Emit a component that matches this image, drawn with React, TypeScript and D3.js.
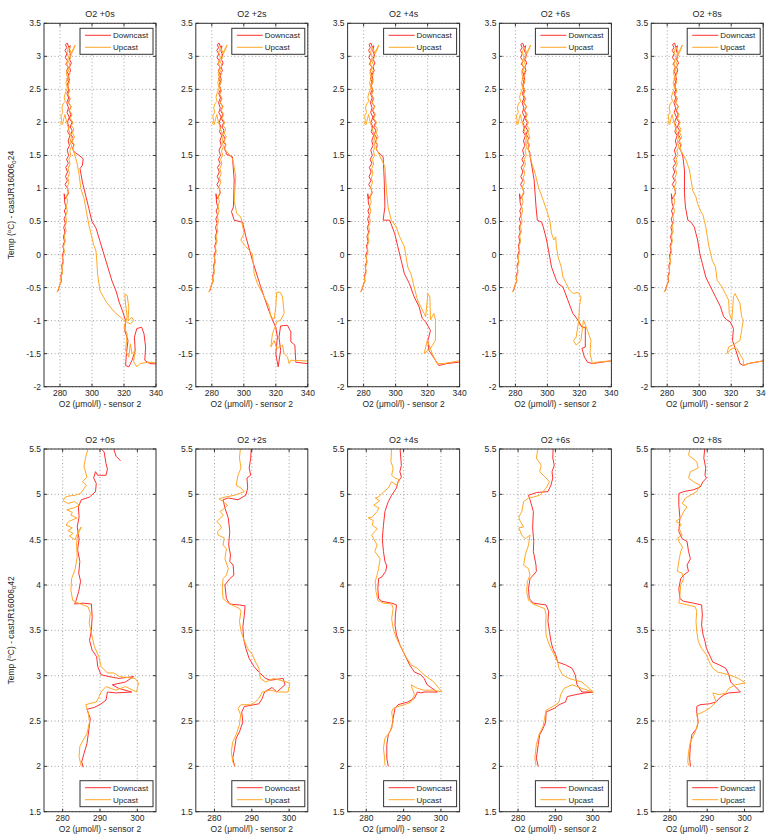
import React from "react";
import * as d3 from "d3";

const W = 766;
const H = 837;

const lagTitles = ["O2 +0s", "O2 +2s", "O2 +4s", "O2 +6s", "O2 +8s"];
const topXTicks = [280, 300, 320, 340];
const topYTicks = [-2, -1.5, -1, -0.5, 0, 0.5, 1, 1.5, 2, 2.5, 3, 3.5];
const bottomXTicks = [280, 290, 300];
const bottomYTicks = [1.5, 2, 2.5, 3, 3.5, 4, 4.5, 5, 5.5];
const seriesNames = ["Downcast", "Upcast"];

// ---- cast JR16006_024 (top row) : shared upper / left branch ----
const topDownUpper = [289,1.55, 287.8,1.6, 288.6,1.66, 287.2,1.7, 288.3,1.76, 286.8,1.82, 287.6,1.88, 286.4,1.93, 287.4,2.0, 285.9,2.06, 286.8,2.12, 285.6,2.18, 286.9,2.24, 285.2,2.3, 286.2,2.36, 284.9,2.42, 285.8,2.48, 284.6,2.55, 285.7,2.6, 284.3,2.66, 285.4,2.72, 284.1,2.78, 285.2,2.84, 283.6,2.88, 284.8,2.93, 283.3,2.98, 284.3,3.04, 283.1,3.09, 284.2,3.13, 283.4,3.18, 284.6,3.2, 285.4,3.14, 286.4,3.16, 285.7,3.08, 286.9,3.02, 285.8,2.96, 287.1,2.9, 285.9,2.84, 286.6,2.78, 285.2,2.72, 285.9,2.64, 284.6,2.58, 285.5,2.5, 284.3,2.44, 285.4,2.37, 284.2,2.3, 285.3,2.22, 284.4,2.15, 285.8,2.08, 284.6,2.0, 285.7,1.93, 284.8,1.86, 286.2,1.8, 285.1,1.72, 285.9,1.65, 284.5,1.58, 285.4,1.5, 284.1,1.44, 285.2,1.38, 283.6,1.32, 284.7,1.25, 283.4,1.18, 284.6,1.12, 283.2,1.06, 284.7,1.0, 285.3,0.93, 284.2,0.88, 283.1,0.84, 282.6,0.92, 283.0,0.78, 283.8,0.72, 282.7,0.66, 283.6,0.6, 282.5,0.54, 283.3,0.47, 282.3,0.41, 283.1,0.34, 282.1,0.27, 282.8,0.2, 281.8,0.13, 282.4,0.06, 281.4,-0.02, 282.0,-0.1, 281.0,-0.17, 281.5,-0.25, 280.5,-0.32, 280.9,-0.4, 279.8,-0.46, 279.2,-0.52, 278.5,-0.56];
const topUpUpper = [288,1.6, 288.9,1.66, 287.6,1.72, 289.1,1.78, 287.8,1.84, 288.7,1.9, 287.1,1.95, 288.2,2.0, 286.4,2.06, 287.5,2.12, 285.9,2.18, 287.0,2.24, 285.4,2.3, 286.4,2.36, 284.9,2.42, 286.1,2.48, 284.6,2.55, 285.9,2.62, 284.8,2.68, 286.3,2.74, 285.0,2.8, 286.4,2.86, 285.3,2.92, 286.8,2.98, 286.0,3.03, 287.6,3.08, 288.4,3.12, 289.5,3.17, 288.3,3.09, 287.2,3.04, 286.2,3.1, 285.3,3.14, 284.4,3.06, 285.3,2.98, 284.2,2.9, 285.1,2.82, 283.9,2.75, 284.8,2.67, 283.7,2.6, 284.6,2.52, 283.4,2.45, 282.6,2.38, 283.3,2.32, 281.9,2.28, 281.2,2.22, 281.8,2.15, 280.6,2.1, 281.1,2.03, 280.4,1.98, 281.6,1.97, 282.4,2.06, 283.1,2.12, 283.8,2.04, 284.6,1.97, 285.4,1.9, 286.2,1.84, 287.1,1.78, 286.3,1.7, 287.3,1.64, 286.1,1.57, 286.8,1.5, 285.5,1.44, 286.3,1.37, 285.0,1.3, 285.9,1.23, 284.8,1.16, 285.6,1.09, 284.4,1.02, 285.2,0.95, 284.0,0.88, 284.8,0.8, 283.8,0.73, 284.6,0.66, 283.5,0.58, 284.2,0.5, 283.1,0.43, 283.8,0.36, 282.7,0.28, 283.3,0.2, 282.2,0.12, 282.8,0.04, 281.7,-0.04, 282.2,-0.12, 281.2,-0.2, 281.6,-0.28, 280.5,-0.35, 280.6,-0.42, 279.5,-0.48, 278.8,-0.53, 278,-0.57];

// ---- top row: lag-dependent lower (diagonal) parts ----
const topDownDiag0 = [343,-1.66, 336,-1.65, 333,-1.6, 333.5,-1.4, 332.5,-1.2, 331,-1.1, 328,-1.12, 326.5,-1.25, 327,-1.45, 325,-1.6, 323,-1.7, 321,-1.68, 321.5,-1.5, 322.5,-1.3, 320.5,-1.15, 321,-1.0, 319,-0.85, 317,-0.72, 315,-0.55, 312.5,-0.4, 310,-0.2, 307.5,0, 305,0.2, 302.5,0.4, 300,0.5, 298,0.7, 296,0.9, 294,1.1, 292.5,1.3, 294,1.35, 294.5,1.45, 292,1.5, 289,1.55];
const topUpDiag0 = [342,-1.64, 335,-1.63, 330,-1.65, 328,-1.7, 326,-1.62, 327,-1.45, 325,-1.5, 324,-1.35, 323,-1.55, 321,-1.45, 322,-1.2, 320,-1.1, 322,-0.95, 321,-0.75, 320.5,-0.6, 322,-0.62, 323,-0.8, 322.5,-1.0, 325,-0.95, 326,-1.0, 324,-1.05, 320,-1.0, 318,-0.95, 314,-0.87, 309,-0.72, 305,-0.55, 303.5,-0.3, 303,-0.1, 302.5,0.05, 301,0.15, 299.5,0.3, 298,0.45, 296.5,0.65, 295,0.85, 293,1.0, 292,1.2, 290.5,1.4, 288,1.6];
const topDownDiag1 = [343,-1.66, 339.8,-1.65, 332.5,-1.63, 331.9,-1.37, 329.4,-1.32, 329.4,-1.17, 327.3,-1.07, 323,-1.08, 322,-1.25, 323,-1.45, 321.5,-1.7, 320,-1.5, 321,-1.25, 320,-1.1, 317.9,-0.99, 314.8,-0.79, 310.6,-0.49, 305.4,-0.09, 301.3,0.27, 299.2,0.49, 294,0.52, 292.3,0.65, 293.5,0.72, 294,1.13, 292.9,1.48, 289,1.52];
const topUpDiag1 = [342,-1.61, 339.8,-1.61, 329.4,-1.6, 328.3,-1.65, 327.3,-1.55, 325.2,-1.5, 324.2,-1.37, 320.6,-1.42, 319,-1.3, 316.9,-1.4, 317.9,-1.2, 320.6,-1.02, 323.1,-0.99, 325.2,-0.89, 324.2,-0.64, 322.7,-0.57, 320.6,-0.57, 320,-0.79, 319,-0.97, 316.9,-0.95, 315.8,-0.79, 311.7,-0.59, 308.5,-0.44, 306.5,-0.29, 305.4,0.01, 301.3,0.12, 298.1,0.22, 300.2,0.32, 298.1,0.57, 295.6,0.62, 294,0.82, 295,1.18, 293,1.45, 288,1.6];
const topDownDiag2 = [343,-1.63, 339.2,-1.63, 332,-1.65, 327,-1.68, 324.9,-1.6, 320.8,-1.45, 320.2,-1.3, 321.8,-1.15, 318.8,-1.02, 316.7,-0.97, 314.7,-0.79, 311.6,-0.64, 308.6,-0.44, 305.5,-0.29, 303.5,-0.09, 301.4,0.12, 299.4,0.32, 296.3,0.52, 292.2,0.52, 293.3,0.72, 292.9,1.13, 292.2,1.48, 289,1.55];
const topUpDiag2 = [342,-1.61, 339.2,-1.61, 330,-1.65, 325.9,-1.65, 322.9,-1.5, 319.8,-1.3, 317.8,-1.5, 321.8,-1.42, 324.9,-1.3, 324.9,-0.99, 323.9,-0.89, 321.8,-0.99, 321.4,-0.64, 320.2,-0.59, 318.8,-0.94, 317.8,-0.89, 315.7,-0.79, 313.7,-0.69, 311.6,-0.49, 309.6,-0.29, 307.6,-0.19, 305.5,0.12, 302.5,0.27, 300.4,0.42, 297.3,0.52, 295.3,0.72, 294.3,0.97, 293.3,1.33, 288,1.6];
const topDownDiag3 = [343,-1.61, 339.5,-1.61, 328.2,-1.65, 325.1,-1.63, 323.1,-1.55, 321.6,-1.42, 323.7,-1.4, 323.7,-1.1, 321.6,-1.1, 319,-0.99, 315.9,-0.89, 312.8,-0.69, 309.7,-0.49, 306.7,-0.44, 305.6,-0.39, 302.6,-0.19, 301.1,0.01, 299.5,0.22, 297.4,0.42, 296.4,0.49, 293.7,0.52, 292.9,0.72, 291.7,1.13, 290.3,1.33, 289.2,1.48, 289,1.55];
const topUpDiag3 = [342,-1.61, 339.5,-1.61, 330.3,-1.63, 328.2,-1.65, 326.6,-1.5, 327.2,-1.3, 325.1,-1.15, 322.5,-0.99, 321,-1.3, 318,-1.37, 316.3,-1.3, 318,-1.25, 319.6,-0.99, 320,-0.79, 321,-0.64, 319,-0.57, 316.3,-0.59, 313.8,-0.54, 311.8,-0.44, 309.7,-0.34, 308.7,-0.19, 306.7,-0.04, 305.6,0.12, 305.2,0.27, 304,0.22, 302.6,0.32, 301.5,0.52, 299.5,0.67, 297.4,0.82, 294.4,1.02, 292.3,1.23, 290.3,1.38, 288,1.6];
const topDownDiag4 = [343,-1.61, 339.8,-1.61, 330.6,-1.65, 327.6,-1.68, 325.5,-1.65, 322.9,-1.45, 320.8,-1.3, 321.4,-1.12, 319.4,-1.02, 317.3,-0.99, 315.3,-0.94, 313.3,-0.79, 310.2,-0.64, 307.1,-0.49, 304.1,-0.34, 302,-0.14, 300.4,0.01, 299,0.22, 296.9,0.42, 294.9,0.49, 292.9,0.52, 291.4,0.72, 290.8,0.92, 290.8,1.28, 289.8,1.48, 289,1.55];
const topUpDiag4 = [342,-1.61, 339.8,-1.61, 330.6,-1.65, 327.6,-1.68, 327.6,-1.6, 323.5,-1.42, 320.4,-1.42, 317.3,-1.5, 318.4,-1.4, 322.4,-1.35, 325.5,-1.3, 326.5,-1.15, 327.6,-0.99, 326.5,-0.94, 325.5,-0.74, 322.4,-0.59, 321.4,-0.64, 320.4,-0.99, 318.8,-0.89, 318.4,-0.69, 316.3,-0.59, 314.3,-0.49, 311.2,-0.39, 310.2,-0.19, 308.2,-0.09, 306.1,0.12, 305.1,0.27, 304.1,0.42, 303.1,0.52, 302.4,0.6, 301,0.65, 299,0.77, 298,0.87, 295.9,0.97, 294.9,1.13, 293.9,1.28, 291.8,1.43, 288,1.6];

// ---- cast JR16006_042 (bottom row) ----
const botDown0 = [295.5,5.37, 294.3,5.42, 293.7,5.5, 292,5.62, 290.3,5.5, 291.1,5.47, 291.6,5.34, 292,5.28, 291.6,5.21, 289.4,5.21, 288.8,5.25, 288.3,5.18, 289,5.12, 288.8,5.03, 287.2,4.97, 285,4.94, 284.2,4.86, 284.4,4.75, 283.9,4.64, 284.4,4.51, 284,4.39, 284.6,4.26, 284.3,4.13, 284.8,4.04, 284.3,3.93, 283.6,3.83, 283.2,3.79, 285.5,3.8, 287.7,3.79, 287.9,3.65, 287.7,3.5, 287.2,3.39, 287.9,3.28, 289.1,3.21, 289.4,3.1, 290.3,3.01, 292.4,2.99, 295,2.97, 299,2.99, 296.8,2.93, 293.3,2.9, 295,2.86, 298.5,2.82, 294.2,2.81, 292,2.82, 291.6,2.73, 290.3,2.69, 288.5,2.65, 286.5,2.63, 287.4,2.53, 287,2.4, 286.5,2.25, 285.7,2.14, 285.1,2.05, 285.5,1.99];
const botUp0 = [287,5.62, 286.8,5.5, 286.2,5.42, 285.7,5.31, 286.5,5.19, 285.3,5.14, 286.3,5.1, 284.8,5.01, 283.3,4.99, 281.5,4.98, 280.7,4.97, 280.1,4.93, 281.4,4.9, 283.2,4.92, 284.5,4.88, 283,4.85, 281.1,4.83, 282.6,4.8, 282.2,4.77, 283.8,4.74, 281.6,4.7, 280.9,4.66, 282.6,4.63, 281.4,4.6, 282.8,4.57, 281.8,4.54, 283.3,4.5, 284.3,4.6, 285,4.64, 284.1,4.56, 283.7,4.46, 283.9,4.31, 283.3,4.17, 282.4,4.07, 282.2,3.94, 282.7,3.83, 284.2,3.8, 286.8,3.76, 287.4,3.69, 287.1,3.58, 287.9,3.43, 288.5,3.32, 289.7,3.21, 290.3,3.1, 292,3.03, 293.7,3.03, 295.2,2.99, 299.4,2.97, 300.3,2.92, 299.8,2.82, 296.8,2.88, 294.2,2.84, 291.6,2.88, 290.3,2.82, 289.8,2.77, 289,2.71, 287,2.69, 286.2,2.68, 286.8,2.6, 287.2,2.49, 286.5,2.36, 285.5,2.29, 284.6,2.22, 284.4,2.11, 284.8,2.03, 285,2.0];
const botDown1 = [290,5.62, 289.9,5.53, 289.7,5.4, 289.3,5.29, 289.7,5.21, 288.7,5.18, 288.9,5.07, 288.4,4.99, 286.3,4.94, 283.7,4.96, 282.3,4.94, 282.8,4.85, 283.7,4.74, 284.1,4.59, 283.8,4.44, 284.3,4.33, 284.1,4.26, 285,4.22, 285.2,4.11, 284.1,4.07, 282.8,4.0, 283.2,3.85, 284.1,3.79, 286.7,3.78, 288.2,3.77, 288,3.67, 287.6,3.54, 287.8,3.41, 288.4,3.3, 289.3,3.19, 290.6,3.1, 291.9,3.04, 293.7,2.97, 295,2.95, 298.4,2.97, 298.9,2.9, 296.7,2.82, 295.4,2.87, 293.4,2.82, 292.8,2.75, 291.9,2.69, 290.6,2.68, 288,2.66, 287.3,2.6, 287.6,2.49, 286.7,2.38, 285.8,2.31, 285.4,2.2, 284.9,2.09, 285.4,2.0];
const botUp1 = [287,5.62, 287,5.53, 286.7,5.4, 287.1,5.29, 286.3,5.21, 285.8,5.1, 287.1,5.07, 288,5.03, 285.4,4.99, 282.8,4.97, 281.2,4.95, 282.3,4.92, 283.5,4.88, 282.8,4.85, 281.5,4.81, 282.4,4.77, 280.6,4.7, 281.4,4.67, 281.9,4.63, 280.8,4.59, 281,4.55, 282.6,4.52, 282.3,4.44, 283.2,4.4, 282.8,4.29, 283.7,4.18, 283.2,4.11, 282.3,4.07, 282.1,3.96, 282.3,3.85, 283.7,3.8, 286.7,3.74, 287.1,3.71, 286.7,3.6, 287.1,3.49, 288,3.38, 288.9,3.3, 290.2,3.23, 291,3.15, 291.9,3.08, 292.3,2.97, 293.7,2.93, 295.8,2.97, 297.6,2.95, 300.2,2.92, 299.7,2.82, 297.1,2.82, 295,2.84, 292.8,2.82, 291.9,2.75, 291,2.71, 289.7,2.68, 287.1,2.68, 286.3,2.64, 287,2.57, 286.7,2.46, 285.8,2.35, 284.9,2.27, 284.5,2.16, 284.9,2.05, 285.4,2.01];
const botDown2 = [289,5.62, 289,5.53, 289.4,5.32, 289,5.25, 289.4,5.19, 288.5,5.14, 288.1,5.07, 286.8,4.99, 285.9,4.92, 285,4.81, 284.6,4.66, 284.3,4.51, 284.6,4.37, 285,4.26, 285.5,4.21, 285.2,4.15, 284.2,4.09, 283.3,4.07, 283.1,3.96, 283.3,3.85, 284.2,3.82, 286.8,3.8, 288.1,3.78, 287.8,3.67, 287.7,3.56, 288.1,3.45, 289,3.34, 290.3,3.23, 291.6,3.12, 292.9,3.04, 294.6,3.01, 295.5,2.97, 296.3,2.9, 299,2.82, 295.5,2.82, 294.6,2.81, 293.7,2.82, 292.9,2.75, 291.1,2.71, 288.5,2.68, 287.7,2.64, 287.2,2.53, 286.8,2.42, 285.9,2.35, 285.5,2.24, 285.5,2.09, 285.9,2.0];
const botUp2 = [286.8,5.62, 286.8,5.53, 286.6,5.36, 287.2,5.29, 286.8,5.21, 287.7,5.18, 289,5.16, 288.1,5.1, 286.8,5.14, 285.9,5.07, 284.2,5.01, 283.3,4.97, 282.4,4.96, 283.6,4.93, 282,4.88, 283.4,4.85, 282.9,4.81, 281.6,4.75, 280.5,4.74, 281.9,4.71, 281.6,4.66, 283,4.62, 282.3,4.59, 281.4,4.55, 282,4.51, 282.9,4.44, 282.3,4.37, 283.7,4.29, 283.3,4.18, 282.9,4.11, 282.4,4.04, 282.6,3.93, 283.1,3.83, 284.6,3.8, 286.8,3.79, 287.2,3.74, 286.8,3.63, 287.2,3.52, 288.1,3.41, 289,3.34, 290.3,3.23, 292,3.12, 293.7,3.08, 295.5,3.01, 298.1,2.93, 300.3,2.82, 298.1,2.84, 295.5,2.84, 293.7,2.86, 292,2.9, 292.9,2.79, 292,2.71, 290.3,2.68, 288.5,2.66, 287.2,2.64, 286.8,2.6, 287.2,2.49, 286.3,2.38, 285,2.31, 284.6,2.2, 284.9,2.09, 285,2.01];
const botDown3 = [289.4,5.62, 289.4,5.53, 289.3,5.4, 289.7,5.32, 289.1,5.25, 289.3,5.18, 288.8,5.1, 288,5.03, 284.9,5.02, 283.6,5.0, 282.8,4.99, 283.2,4.94, 284.1,4.81, 283.9,4.63, 284.2,4.48, 284.1,4.37, 284.8,4.22, 284.9,4.15, 284.1,4.11, 283.2,4.07, 282.8,3.96, 283,3.85, 284.1,3.8, 287.5,3.78, 288.2,3.71, 288,3.6, 288.4,3.49, 288.8,3.38, 289.3,3.3, 290.1,3.23, 290.6,3.15, 292.7,3.12, 294.5,3.08, 295.3,3.01, 295.8,2.9, 297.1,2.82, 300.1,2.82, 297.9,2.81, 295.3,2.79, 293.2,2.77, 292.7,2.71, 291,2.68, 289.7,2.64, 287.5,2.6, 287.4,2.49, 286.7,2.42, 285.8,2.35, 285.4,2.24, 284.9,2.09, 285.4,2.0];
const botUp3 = [285.4,5.62, 285.4,5.53, 284.9,5.4, 286.2,5.32, 285.8,5.25, 287.5,5.18, 288.4,5.14, 287.5,5.07, 285.8,4.99, 284.1,4.97, 282.8,4.96, 281.5,4.92, 281,4.81, 280.2,4.75, 280.6,4.7, 281.5,4.64, 280.2,4.63, 281,4.55, 281.9,4.51, 283.2,4.55, 282.8,4.44, 281.9,4.33, 281.5,4.22, 282.8,4.18, 283.2,4.11, 282.5,4.04, 282.3,3.93, 282.8,3.83, 284.1,3.79, 285.8,3.76, 287.1,3.74, 287.5,3.67, 287.4,3.56, 287.5,3.45, 288,3.38, 288.8,3.3, 289.7,3.23, 290.6,3.15, 291,3.08, 291.9,3.01, 293.6,2.97, 297.1,2.93, 300.1,2.82, 297.1,2.86, 294.5,2.9, 292.3,2.86, 291.4,2.79, 291,2.71, 290.1,2.68, 288.4,2.64, 287.5,2.62, 287.1,2.53, 286.7,2.44, 285.6,2.35, 284.9,2.24, 284.5,2.09, 284.8,2.01];
const botDown4 = [289.4,5.62, 289.4,5.53, 289.1,5.4, 289.6,5.29, 289.4,5.21, 289.8,5.18, 288.9,5.14, 288.1,5.08, 286.3,5.05, 283.7,5.03, 282.4,5.01, 282.4,4.88, 282.7,4.74, 282.4,4.59, 283.3,4.51, 284.6,4.48, 285,4.37, 285.5,4.29, 284.6,4.22, 285,4.15, 283.7,4.11, 282.9,4.07, 282.4,3.96, 282.7,3.85, 283.7,3.82, 286.3,3.8, 288.5,3.78, 288.7,3.67, 288.5,3.56, 288.9,3.45, 289.4,3.38, 289.8,3.3, 290.6,3.23, 291.5,3.15, 293.2,3.12, 295,3.08, 295.8,3.01, 296.3,2.93, 298.9,2.82, 295.8,2.81, 294.5,2.79, 293.2,2.75, 292.4,2.71, 290.6,2.69, 288.1,2.68, 287.2,2.66, 287.2,2.6, 287.6,2.49, 287.2,2.42, 285.9,2.35, 285.5,2.24, 285.3,2.09, 285.5,2.0];
const botUp4 = [285.5,5.62, 285.5,5.53, 285,5.43, 287.2,5.36, 287.6,5.29, 285.5,5.25, 285,5.18, 286.3,5.14, 288.1,5.1, 287.2,5.03, 285.5,4.99, 284.2,4.96, 283.3,4.9, 284.6,4.86, 283.7,4.81, 282.9,4.74, 281.6,4.7, 283.1,4.67, 282.4,4.63, 283.3,4.55, 282.1,4.52, 282.4,4.48, 283.4,4.42, 282.9,4.37, 282.4,4.26, 282,4.15, 283.3,4.13, 283.7,4.07, 282.9,4.0, 282.7,3.89, 282.4,3.8, 283.7,3.79, 286.8,3.76, 287.2,3.71, 287,3.6, 287.2,3.49, 287.6,3.38, 288.5,3.3, 289.8,3.23, 290.6,3.15, 291.5,3.08, 292.8,3.04, 295.8,3.01, 298.4,2.97, 300.2,2.92, 297.6,2.9, 295.8,2.86, 295,2.81, 293.2,2.79, 291.5,2.81, 292.4,2.71, 290.6,2.64, 288.9,2.6, 287.2,2.57, 287.6,2.49, 286.8,2.38, 285.5,2.27, 285,2.16, 284.8,2.05, 285,2.01];

const topDownDiags = [topDownDiag0, topDownDiag1, topDownDiag2, topDownDiag3, topDownDiag4];
const topUpDiags = [topUpDiag0, topUpDiag1, topUpDiag2, topUpDiag3, topUpDiag4];
const botDowns = [botDown0, botDown1, botDown2, botDown3, botDown4];
const botUps = [botUp0, botUp1, botUp2, botUp3, botUp4];

const FONT = "'Liberation Sans', Arial, Helvetica, sans-serif";
const RED = "#ff3030";
const ORANGE = "#ffa826";
const PANEL_W = 112;
const PANEL_STEP = 151.8;
const PANEL_L0 = 44;

function pairs(flat: number[]): [number, number][] {
  const out: [number, number][] = [];
  for (let i = 0; i + 1 < flat.length; i += 2) out.push([flat[i], flat[i + 1]]);
  return out;
}

type PanelProps = {
  id: string;
  L: number;
  top: number;
  h: number;
  xDomain: [number, number];
  yDomain: [number, number];
  xTicks: number[];
  yTicks: number[];
  down: [number, number][];
  up: [number, number][];
  title: string;
  legendBottom: boolean;
};

function Panel(p: PanelProps) {
  const x = d3.scaleLinear().domain(p.xDomain).range([p.L, p.L + PANEL_W]);
  const y = d3.scaleLinear().domain(p.yDomain).range([p.top + p.h, p.top]);
  const line = d3.line<[number, number]>().x((d) => x(d[0])).y((d) => y(d[1]));
  const R = p.L + PANEL_W;
  const B = p.top + p.h;
  const tickLen = 3;
  const lgX = p.L + 36;
  const lgW = 73;
  const lgY = p.legendBottom ? B - 31 : p.top + 5;
  const lgH = 26;
  return (
    <g>
      <defs>
        <clipPath id={p.id}>
          <rect x={p.L} y={p.top} width={PANEL_W} height={p.h} />
        </clipPath>
      </defs>
      <rect x={p.L} y={p.top} width={PANEL_W} height={p.h} fill="#fff" />
      {p.xTicks.map((t) => (
        <line key={"gx" + t} x1={x(t)} x2={x(t)} y1={p.top} y2={B} stroke="#8a8a8a" strokeWidth={0.8} strokeDasharray="1,2.5" />
      ))}
      {p.yTicks.map((t) => (
        <line key={"gy" + t} x1={p.L} x2={R} y1={y(t)} y2={y(t)} stroke="#8a8a8a" strokeWidth={0.8} strokeDasharray="1,2.5" />
      ))}
      <g clipPath={`url(#${p.id})`}>
        <path d={line(p.down) || ""} fill="none" stroke={RED} strokeWidth={1} strokeLinejoin="round" />
        <path d={line(p.up) || ""} fill="none" stroke={ORANGE} strokeWidth={1} strokeLinejoin="round" />
      </g>
      <rect x={p.L} y={p.top} width={PANEL_W} height={p.h} fill="none" stroke="#333" strokeWidth={1} />
      {p.xTicks.map((t) => (
        <g key={"tx" + t}>
          <line x1={x(t)} x2={x(t)} y1={B} y2={B - tickLen} stroke="#333" />
          <line x1={x(t)} x2={x(t)} y1={p.top} y2={p.top + tickLen} stroke="#333" />
          <text x={x(t)} y={B + 9.5} textAnchor="middle" fontSize={8.5} fill="#262626">{String(t)}</text>
        </g>
      ))}
      {p.yTicks.map((t) => (
        <g key={"ty" + t}>
          <line x1={p.L} x2={p.L + tickLen} y1={y(t)} y2={y(t)} stroke="#333" />
          <line x1={R} x2={R - tickLen} y1={y(t)} y2={y(t)} stroke="#333" />
          <text x={p.L - 3} y={y(t)} dy="0.35em" textAnchor="end" fontSize={8.5} fill="#262626">{String(t)}</text>
        </g>
      ))}
      <text x={p.L + PANEL_W / 2} y={p.top - 6} textAnchor="middle" fontSize={9} fill="#262626">{p.title}</text>
      <text x={p.L + PANEL_W / 2} y={B + 20.5} textAnchor="middle" fontSize={8.5} fill="#262626">O2 (μmol/l) - sensor 2</text>
      <g>
        <rect x={lgX} y={lgY} width={lgW} height={lgH} fill="#fff" stroke="#333" strokeWidth={1} />
        {seriesNames.map((s, i) => (
          <g key={s}>
            <line x1={lgX + 5} x2={lgX + 31} y1={lgY + 7 + i * 12} y2={lgY + 7 + i * 12} stroke={i === 0 ? RED : ORANGE} strokeWidth={1} />
            <text x={lgX + 33} y={lgY + 7 + i * 12} dy="0.35em" fontSize={8} fill="#262626">{s}</text>
          </g>
        ))}
      </g>
    </g>
  );
}

function YLabel({ cx, cy, cast }: { cx: number; cy: number; cast: string }) {
  return (
    <text transform={`translate(${cx},${cy}) rotate(-90)`} textAnchor="middle" fontSize={8.5} fill="#262626">
      Temp (<tspan dy={-3} fontSize={6}>o</tspan>
      <tspan dy={3}>C) - castJR16006</tspan>
      <tspan dy={2} fontSize={6}>0</tspan>
      <tspan dy={-2}>{cast}</tspan>
    </text>
  );
}

export default function App() {
  const topTop = 23.3;
  const topH = 363.4;
  const botTop = 449;
  const botH = 362.7;
  return (
    <svg
      width={W}
      height={H}
      style={{ display: "block", position: "absolute", left: 0, top: 0, fontFamily: FONT, background: "#fff" }}
      fontFamily={FONT}
    >
      <rect width={W} height={H} fill="#fff" />
      {lagTitles.map((title, i) => (
        <Panel
          key={"top" + i}
          id={"clipTop" + i}
          L={PANEL_L0 + i * PANEL_STEP}
          top={topTop}
          h={topH}
          xDomain={[270, 340]}
          yDomain={[-2, 3.5]}
          xTicks={topXTicks}
          yTicks={topYTicks}
          down={pairs(topDownDiags[i].concat(topDownUpper))}
          up={pairs(topUpDiags[i].concat(topUpUpper))}
          title={title}
          legendBottom={false}
        />
      ))}
      {lagTitles.map((title, i) => (
        <Panel
          key={"bot" + i}
          id={"clipBot" + i}
          L={PANEL_L0 + i * PANEL_STEP}
          top={botTop}
          h={botH}
          xDomain={[275, 305]}
          yDomain={[1.5, 5.5]}
          xTicks={bottomXTicks}
          yTicks={bottomYTicks}
          down={pairs(botDowns[i])}
          up={pairs(botUps[i])}
          title={title}
          legendBottom={true}
        />
      ))}
      <YLabel cx={14} cy={topTop + topH / 2} cast="24" />
      <YLabel cx={14} cy={botTop + botH / 2} cast="42" />
    </svg>
  );
}
